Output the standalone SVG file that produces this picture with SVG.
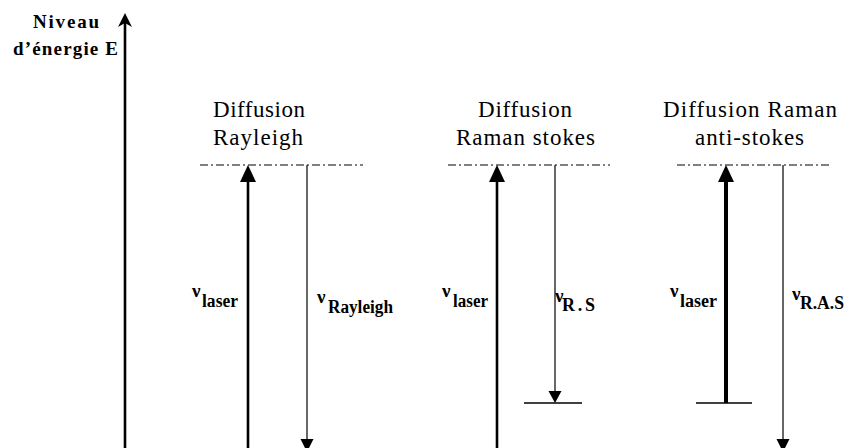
<svg xmlns="http://www.w3.org/2000/svg" width="846" height="448" viewBox="0 0 846 448">
  <style>
    text { font-family: "Liberation Serif", serif; fill: #000; }
    .title { font-size: 23px; }
    .axis-label { font-size: 19px; font-weight: bold; }
    .nu { font-size: 19px; font-weight: bold; }
    .sub { font-size: 18px; font-weight: bold; }
    .level { stroke: #000; stroke-width: 1; stroke-dasharray: 8 3 2 3; fill: none; }
    .ground { stroke: #000; stroke-width: 1.3; fill: none; }
    .laser { stroke: #000; stroke-width: 2.6; fill: none; }
    .laser-thick { stroke: #000; stroke-width: 4; fill: none; }
    .emit { stroke: #000; stroke-width: 1.2; fill: none; }
    .head { fill: #000; stroke: none; }
  </style>

  <!-- energy axis -->
  <g id="axis">
    <line x1="125" y1="448" x2="125" y2="20" class="laser"/>
    <path d="M125,13 L132,27 L125,23 L118,27 Z" class="head"/>
    <text class="axis-label" x="33" y="28" textLength="66" lengthAdjust="spacing">Niveau</text>
    <text class="axis-label" x="13" y="55" textLength="105" lengthAdjust="spacing">d’énergie E</text>
  </g>

  <!-- Rayleigh scattering -->
  <g id="rayleigh">
    <text class="title" x="213" y="117" textLength="92" lengthAdjust="spacing">Diffusion</text>
    <text class="title" x="213" y="145" textLength="90" lengthAdjust="spacing">Rayleigh</text>
    <line x1="200" y1="165" x2="363" y2="165" class="level"/>
    <text class="nu" x="192" y="297">ν</text>
    <text class="sub" x="202" y="307" textLength="36" lengthAdjust="spacingAndGlyphs">laser</text>
    <text class="nu" x="317" y="303">ν</text>
    <text class="sub" x="328" y="313" textLength="65" lengthAdjust="spacingAndGlyphs">Rayleigh</text>
  </g>

  <!-- Stokes Raman scattering -->
  <g id="raman-stokes">
    <text class="title" x="478" y="117" textLength="94" lengthAdjust="spacing">Diffusion</text>
    <text class="title" x="456" y="145" textLength="139" lengthAdjust="spacing">Raman stokes</text>
    <line x1="448" y1="165" x2="610" y2="165" class="level"/>
    <line x1="524" y1="403" x2="582" y2="403" class="ground"/>
    <text class="nu" x="442" y="297">ν</text>
    <text class="sub" x="453" y="307" textLength="35" lengthAdjust="spacingAndGlyphs">laser</text>
    <text class="nu" x="555" y="302">ν</text>
    <text class="sub" x="562" y="311" textLength="33" lengthAdjust="spacing">R.S</text>
  </g>

  <!-- anti-Stokes Raman scattering -->
  <g id="raman-anti-stokes">
    <text class="title" x="663" y="117" textLength="174" lengthAdjust="spacing">Diffusion Raman</text>
    <text class="title" x="695" y="145" textLength="109" lengthAdjust="spacing">anti-stokes</text>
    <line x1="677" y1="165" x2="831" y2="165" class="level"/>
    <line x1="696" y1="403" x2="752" y2="403" class="ground"/>
    <text class="nu" x="670" y="297">ν</text>
    <text class="sub" x="680" y="307" textLength="37" lengthAdjust="spacingAndGlyphs">laser</text>
    <text class="nu" x="792" y="300">ν</text>
    <text class="sub" x="800" y="309" textLength="44" lengthAdjust="spacingAndGlyphs">R.A.S</text>
  </g>

  <!-- transitions -->
  <g id="connectors">
    <!-- Rayleigh: up (laser), down (re-emitted) -->
    <line x1="248" y1="448" x2="248" y2="180" class="laser"/>
    <path d="M248,165 L256,182 L240,182 Z" class="head"/>
    <line x1="307" y1="165" x2="307" y2="442" class="emit"/>
    <path d="M307,452 L313.5,439 L300.5,439 Z" class="head"/>

    <!-- Stokes -->
    <line x1="497" y1="448" x2="497" y2="180" class="laser"/>
    <path d="M497,165 L505,182 L489,182 Z" class="head"/>
    <line x1="555" y1="165" x2="555" y2="394" class="emit"/>
    <path d="M555,403 L561.5,391 L548.5,391 Z" class="head"/>

    <!-- anti-Stokes -->
    <line x1="726" y1="403" x2="726" y2="180" class="laser-thick"/>
    <path d="M726,165 L734,182 L718,182 Z" class="head"/>
    <line x1="783" y1="165" x2="783" y2="442" class="emit"/>
    <path d="M783,452 L789.5,439 L776.5,439 Z" class="head"/>
  </g>
</svg>
